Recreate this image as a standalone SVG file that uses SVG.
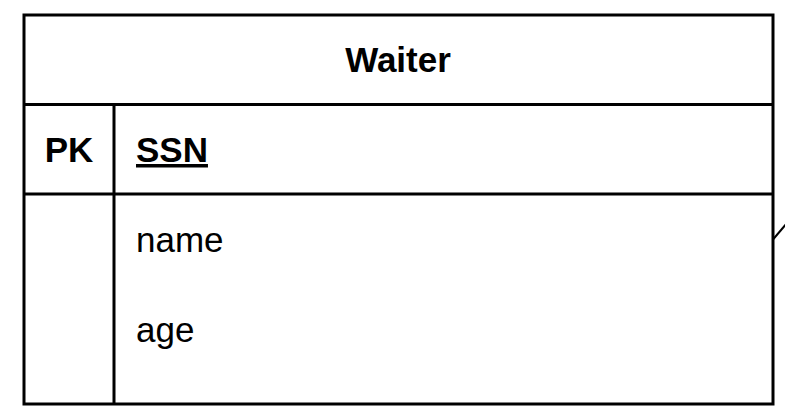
<svg xmlns="http://www.w3.org/2000/svg" width="785" height="413" viewBox="0 0 785 413">
<style>
.b{fill:none;stroke:#000;stroke-width:3}
.t{font-family:"Liberation Sans",Arial,sans-serif;font-size:35px;fill:#000}
.bold{font-weight:bold}
</style>
<rect width="785" height="413" fill="#fff"/>
<g id="Waiter">
<rect class="b" x="24" y="15" width="749" height="389"/>
<line class="b" x1="24" y1="104.5" x2="773" y2="104.5"/>
<line class="b" x1="24" y1="194" x2="773" y2="194"/>
<line class="b" x1="114" y1="104.5" x2="114" y2="404"/>
<text class="t bold" x="398" y="72" text-anchor="middle">Waiter</text>
<text class="t bold" x="69" y="162" text-anchor="middle">PK</text>
<text class="t bold" x="136" y="162" text-decoration="underline">SSN</text>
<text class="t" x="136" y="252">name</text>
<text class="t" x="136" y="342">age</text>
</g>
<g id="connectors">
<line x1="773" y1="239.5" x2="787" y2="223" stroke="#000" stroke-width="2"/>
</g>
</svg>
